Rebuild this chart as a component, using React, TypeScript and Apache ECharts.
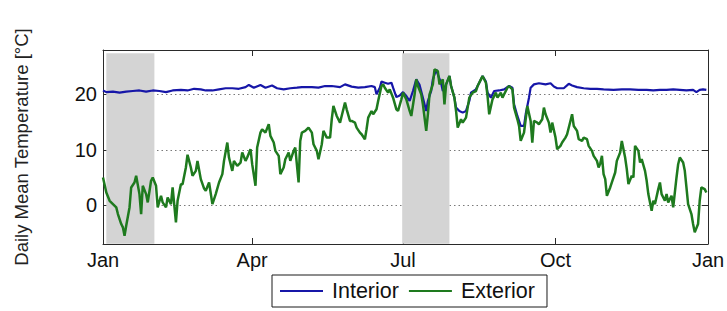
import React, { useEffect, useRef } from "react";
import * as echarts from "echarts";

// Day-of-year ticks and their labels
const monthTicks: number[] = [0, 90, 181, 273, 365];
const monthLabels: string[] = ["Jan", "Apr", "Jul", "Oct", "Jan"];
const tempTicks: number[] = [0, 10, 20];

// Shaded periods [startDay, endDay]
const shadedPeriods: [number, number][] = [
  [2, 31],
  [180.5, 209],
];

// Interior daily mean temperature [day, °C]
const interior: [number, number][] = [
  [0, 20.7], [2, 20.4], [6, 20.5], [10, 20.3], [14, 20.5], [18, 20.6], [22, 20.7],
  [26, 20.5], [30, 20.7], [34, 20.6], [38, 20.4], [42, 20.7], [47, 20.8], [51, 20.7],
  [55, 21.0], [59, 20.9], [62, 20.7], [66, 20.7], [70, 20.9], [74, 21.1], [78, 21.1],
  [82, 21.0], [86, 21.3], [88, 21.7], [91, 21.2], [95, 21.7], [98, 21.2], [102, 21.6],
  [105, 21.1], [109, 20.9], [113, 21.1], [117, 21.2], [120, 21.3], [122, 21.3],
  [126, 21.3], [130, 21.2], [134, 21.5], [138, 21.5], [143, 21.3], [146, 21.8],
  [150, 21.4], [154, 21.2], [158, 21.3], [162, 21.5], [164, 21.3], [165, 20.0],
  [167, 21.2], [168, 22.3], [170, 22.1], [172, 21.9], [174, 22.1], [175, 21.2],
  [177, 19.5], [179, 19.8], [181, 20.4], [183, 19.7], [185, 18.8], [187, 20.6],
  [189, 22.7], [191, 21.7], [193, 19.4], [195, 17.0], [196, 18.8], [198, 20.6],
  [199, 22.7], [201, 24.5], [202, 23.6], [204, 22.0], [205, 20.6], [207, 21.8],
  [209, 23.3], [210, 21.5], [212, 19.4], [213, 17.6], [215, 17.0], [217, 16.7],
  [219, 17.0], [221, 18.8], [222, 20.3], [225, 20.9], [227, 22.1], [229, 23.3],
  [231, 22.3], [232, 20.3], [234, 19.4], [236, 20.6], [239, 20.7], [242, 20.9],
  [245, 21.5], [247, 21.2], [248, 18.2], [250, 16.1], [252, 14.3], [254, 14.3],
  [255, 16.4], [257, 19.4], [258, 21.2], [260, 21.8], [263, 22.0], [267, 21.8],
  [270, 22.0], [272, 21.4], [274, 21.1], [278, 21.1], [281, 21.9], [283, 21.6],
  [286, 21.3], [290, 21.1], [294, 21.0], [298, 21.0], [302, 20.9], [308, 20.8],
  [313, 20.9], [318, 20.9], [323, 20.8], [328, 20.8], [332, 20.7], [336, 20.8],
  [340, 20.8], [344, 20.9], [348, 20.8], [352, 20.7], [356, 20.8], [358, 20.4],
  [360, 20.8], [362, 20.9], [364, 20.8],
];

// Exterior daily mean temperature [day, °C]
const exterior: [number, number][] = [
  [0, 5.0], [2, 2.3], [4, 0.8], [6, 0.2], [8, -0.4], [9, -1.6], [11, -3.4], [12, -4.0],
  [13, -5.5], [14, -3.7], [16, -0.4], [17, 3.2], [19, 4.1], [20, 5.3], [22, 2.0],
  [23, -1.6], [24, 3.5], [26, 2.0], [27, 0.5], [29, 4.4], [30, 5.0], [32, 3.5],
  [33, -0.4], [35, 1.7], [36, 0.5], [38, -0.4], [39, 1.4], [41, 0.2], [42, 3.2],
  [44, -3.1], [45, 0.8], [47, 3.8], [48, 3.8], [50, 6.8], [51, 9.1], [53, 6.8],
  [54, 5.3], [56, 6.2], [57, 8.0], [59, 4.7], [61, 3.0], [62, 2.6], [64, 4.1],
  [66, 0.2], [68, 2.0], [70, 4.1], [72, 5.6], [73, 8.0], [75, 11.3], [76, 8.6],
  [78, 6.2], [79, 8.0], [81, 7.1], [83, 7.7], [84, 9.5], [86, 8.0], [87, 8.6],
  [89, 10.1], [90, 7.4], [92, 3.5], [93, 10.4], [95, 13.1], [96, 13.7], [98, 13.1],
  [100, 14.6], [101, 12.5], [103, 11.3], [104, 9.8], [106, 8.9], [107, 5.6], [109, 6.8],
  [110, 8.3], [112, 9.5], [113, 8.0], [115, 9.8], [116, 10.4], [118, 4.1], [119, 11.6],
  [120, 13.1], [122, 13.4], [124, 14.0], [126, 13.1], [127, 11.0], [129, 9.8],
  [130, 8.3], [132, 11.0], [133, 13.4], [135, 12.2], [137, 12.2], [138, 15.5],
  [139, 17.9], [141, 16.1], [143, 14.9], [144, 16.1], [146, 18.5], [147, 17.3],
  [149, 15.2], [150, 15.2], [152, 14.9], [153, 14.0], [155, 13.1], [156, 12.8],
  [158, 11.9], [159, 13.7], [160, 15.8], [162, 17.0], [163, 16.4], [165, 17.3],
  [166, 18.8], [168, 21.5], [169, 21.8], [170, 21.2], [172, 20.3], [173, 20.9],
  [175, 19.4], [177, 17.3], [178, 17.0], [180, 19.1], [181, 20.3], [183, 19.1],
  [185, 17.0], [186, 16.1], [188, 20.0], [189, 22.7], [190, 21.5], [192, 20.0],
  [193, 18.2], [195, 13.4], [196, 16.4], [197, 20.0], [199, 21.8], [200, 24.5],
  [202, 24.2], [203, 21.8], [205, 22.7], [206, 18.2], [207, 21.8], [209, 23.3],
  [210, 21.5], [212, 19.4], [213, 17.0], [214, 14.0], [216, 15.5], [217, 14.9],
  [219, 15.8], [220, 17.6], [221, 19.4], [223, 20.3], [225, 20.6], [226, 21.5],
  [228, 22.7], [229, 23.3], [231, 22.1], [232, 19.7], [233, 16.4], [235, 19.1],
  [237, 20.3], [238, 19.4], [240, 20.3], [241, 19.4], [243, 20.6], [244, 21.2],
  [245, 21.5], [247, 20.9], [248, 17.6], [250, 15.5], [251, 14.3], [252, 11.6],
  [254, 13.1], [255, 15.5], [256, 17.9], [258, 15.2], [259, 11.3], [260, 15.2],
  [262, 14.9], [263, 14.6], [265, 15.5], [266, 17.6], [267, 16.4], [269, 14.9],
  [270, 13.1], [271, 14.9], [273, 12.2], [274, 10.1], [276, 10.7], [277, 11.3],
  [279, 12.2], [280, 12.8], [282, 15.2], [283, 16.4], [284, 14.3], [286, 13.4],
  [287, 11.9], [289, 11.6], [290, 12.2], [292, 11.9], [293, 10.7], [295, 9.8],
  [296, 8.9], [298, 8.0], [299, 6.8], [300, 7.5], [301, 8.9], [302, 5.6], [303, 4.7],
  [304, 1.7], [306, 3.2], [307, 4.1], [309, 5.9], [310, 8.0], [312, 9.5], [313, 11.6],
  [315, 8.6], [316, 6.5], [317, 3.8], [319, 5.3], [320, 5.0], [321, 10.7], [323, 9.8],
  [324, 7.7], [325, 8.3], [327, 6.2], [328, 4.4], [329, 2.0], [331, -1.0], [332, 0.8],
  [333, 0.2], [335, 2.9], [336, 4.1], [337, 2.0], [339, 0.8], [340, 2.0], [341, 0.5],
  [343, 1.7], [344, -0.4], [345, 2.3], [346, 5.0], [347, 7.4], [348, 8.6], [350, 7.7],
  [351, 6.2], [352, 3.2], [353, 0.2], [355, -1.6], [356, -3.4], [357, -4.9],
  [359, -3.4], [360, 0.8], [361, 3.2], [363, 2.9], [364, 2.3],
];

const FONT = "'Liberation Sans', Arial, Helvetica, sans-serif";
const AXIS_COLOR = "#2a2a2a";

export default function App() {
  const ref = useRef<HTMLDivElement>(null);

  useEffect(() => {
    if (!ref.current) return;
    const chart = echarts.init(ref.current, null, { renderer: "svg" });

    const labelFor = (v: number) => {
      const i = monthTicks.indexOf(v);
      return i >= 0 ? monthLabels[i] : "";
    };

    const tickCommon = (values: number[]) => ({
      show: true,
      inside: true,
      length: 6,
      customValues: values,
      lineStyle: { color: AXIS_COLOR },
    });
    const lineCommon = {
      show: true,
      onZero: false,
      lineStyle: { color: AXIS_COLOR, width: 1 },
    };

    chart.setOption({
      animation: false,
      backgroundColor: "#ffffff",
      textStyle: { fontFamily: FONT },
      grid: {
        left: 103,
        right: 19,
        top: 50,
        bottom: 67,
        outerBoundsMode: "none",
      },
      legend: {
        data: ["Interior", "Exterior"],
        left: 272,
        top: 275,
        orient: "horizontal",
        icon: "rect",
        itemWidth: 43,
        itemHeight: 2,
        itemGap: 10,
        padding: [5, 12, 5, 8],
        borderColor: "#1a1a1a",
        borderWidth: 1,
        backgroundColor: "#ffffff",
        textStyle: {
          fontSize: 21.5,
          color: "#111",
          fontFamily: FONT,
          padding: [0, 0, 0, 4],
        },
      },
      xAxis: [
        {
          type: "value",
          min: 0,
          max: 365,
          position: "bottom",
          axisLine: lineCommon,
          axisTick: tickCommon(monthTicks),
          axisLabel: {
            show: true,
            customValues: monthTicks,
            formatter: (v: number) => labelFor(v),
            fontSize: 20,
            color: "#111",
            margin: 6,
            fontFamily: FONT,
          },
          splitLine: { show: false },
        },
        {
          type: "value",
          min: 0,
          max: 365,
          position: "top",
          axisLine: lineCommon,
          axisTick: tickCommon(monthTicks),
          axisLabel: { show: false },
          splitLine: { show: false },
        },
      ],
      yAxis: [
        {
          type: "value",
          min: -7,
          max: 28,
          position: "left",
          name: "Daily Mean Temperature [°C]",
          nameLocation: "middle",
          nameGap: 72,
          nameTextStyle: { fontSize: 18.5, color: "#222", fontFamily: FONT },
          axisLine: lineCommon,
          axisTick: tickCommon(tempTicks),
          axisLabel: {
            show: true,
            customValues: tempTicks,
            fontSize: 20,
            color: "#111",
            margin: 6,
            fontFamily: FONT,
          },
          splitLine: {
            show: true,
            lineStyle: { color: "#7a7a7a", type: [1.5, 3], width: 1 },
          },
        },
        {
          type: "value",
          min: -7,
          max: 28,
          position: "right",
          axisLine: lineCommon,
          axisTick: tickCommon(tempTicks),
          axisLabel: { show: false },
          splitLine: { show: false },
        },
      ],
      series: [
        {
          name: "Interior",
          type: "line",
          xAxisIndex: 0,
          yAxisIndex: 0,
          data: interior,
          showSymbol: false,
          symbol: "none",
          color: "#1616a8",
          lineStyle: { color: "#1616a8", width: 2.2 },
          z: 3,
          markArea: {
            silent: true,
            itemStyle: { color: "#d4d4d4" },
            data: shadedPeriods.map(([a, b]) => [
              { xAxis: a, yAxis: -6.95 },
              { xAxis: b, yAxis: 27.4 },
            ]),
          },
        },
        {
          name: "Exterior",
          type: "line",
          xAxisIndex: 0,
          yAxisIndex: 0,
          data: exterior,
          showSymbol: false,
          symbol: "none",
          color: "#1e7a1e",
          lineStyle: { color: "#1e7a1e", width: 2.5 },
          z: 4,
        },
      ],
    });

    return () => chart.dispose();
  }, []);

  return (
    <div
      ref={ref}
      style={{ position: "fixed", left: 0, top: 0, width: 727, height: 311 }}
    />
  );
}
